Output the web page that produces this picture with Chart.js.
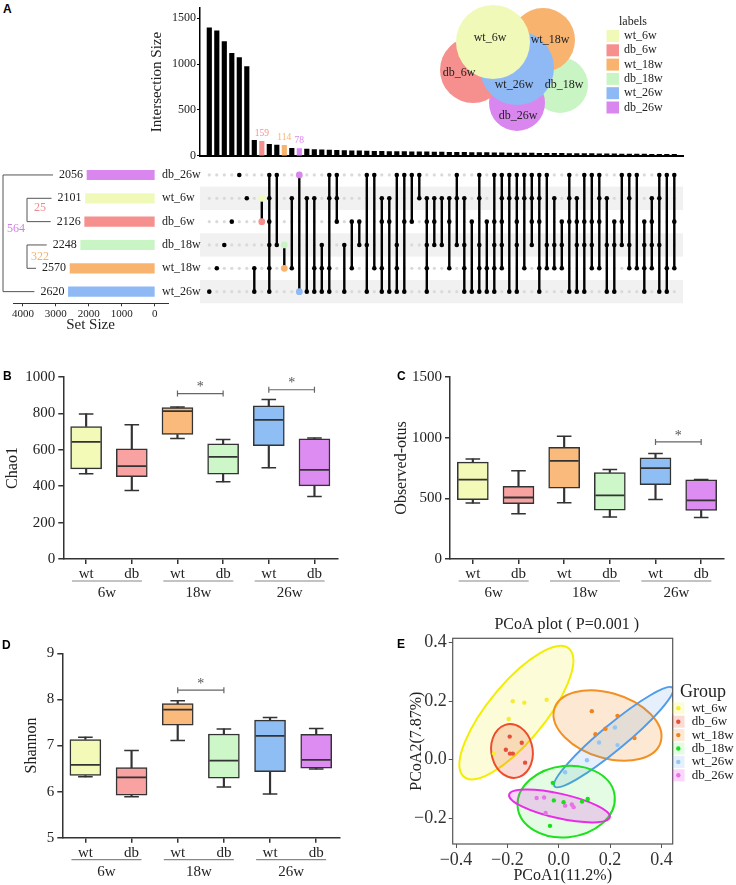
<!DOCTYPE html>
<html lang="en">
<head>
<meta charset="UTF-8">
<title>UpSet, alpha diversity and PCoA</title>
<script src="https://cdn.jsdelivr.net/npm/chart.js"></script>
<style>
  body { margin: 0; background: #fff; }
  #page { position: relative; width: 736px; height: 885px; overflow: hidden; }
  canvas { position: absolute; }
  .tag { position: absolute; font: bold 12px 'Liberation Sans', Arial, sans-serif; color: #000; }
</style>
</head>
<body>
<div id="page">
  <canvas id="bars" width="545" height="164" style="left:145px;top:0px"></canvas>
  <canvas id="venn" width="296" height="135" style="left:440px;top:0px"></canvas>
  <canvas id="matrix" width="545" height="150" style="left:145px;top:160px"></canvas>
  <canvas id="sets" width="213" height="175" style="left:0px;top:160px"></canvas>
  <canvas id="chao" width="345" height="255" style="left:0px;top:350px"></canvas>
  <canvas id="otus" width="345" height="255" style="left:385px;top:350px"></canvas>
  <canvas id="shannon" width="345" height="255" style="left:0px;top:630px"></canvas>
  <canvas id="pcoa" width="336" height="275" style="left:400px;top:610px"></canvas>
  <div class="tag" style="left:3px;top:2px">A</div>
  <div class="tag" style="left:3px;top:369px">B</div>
  <div class="tag" style="left:397px;top:369px">C</div>
  <div class="tag" style="left:2px;top:638px">D</div>
  <div class="tag" style="left:397px;top:637px">E</div>
</div>

<script>
const FONT = "'Liberation Serif', 'Times New Roman', serif";
Chart.defaults.font.family = FONT;
Chart.defaults.color = '#222';
Chart.defaults.plugins.legend.display = false;
Chart.defaults.plugins.tooltip.enabled = false;

// ---------- panel A : upset + venn ----------
const setNames = ['db_26w', 'wt_6w', 'db_6w', 'db_18w', 'wt_18w', 'wt_26w'];
const setSizes = [2056, 2101, 2126, 2248, 2570, 2620];
const setColors = ['#D987EF', '#F1F9B8', '#F5908E', '#C9F5C4', '#F8B36F', '#8EB9F5'];
const setSizeTicks = [4000, 3000, 2000, 1000, 0];

const interSizes = [1397, 1364, 1246, 1118, 1071, 973, 170, 159, 125, 118,
  114, 82, 78, 72, 68, 64, 62, 60, 57, 55,
  53, 51, 50, 48, 47, 46, 45, 44, 43, 42,
  41, 40, 39, 38, 37, 36, 35, 34, 33, 32,
  31, 30, 30, 29, 28, 27, 27, 26, 25, 24,
  24, 23, 22, 21, 21, 20, 19, 19, 18, 17,
  17, 16, 15];
const interTicks = [0, 500, 1000, 1500];
// membership per intersection, rows in setNames order
const interSets = ['000001', '000010', '000100', '001000', '100000', '010000', '000011', '011000', '111111', '100100',
  '000110', '010010', '100001', '010001', '010011', '000111', '110011', '111000', '000101', '001010',
  '001100', '100101', '100010', '011011', '011001', '100111', '101001', '101000', '110000', '011111',
  '011100', '010100', '011010', '110100', '010111', '001001', '110111', '001011', '101111', '111110',
  '110001', '111101', '110010', '111100', '111011', '100110', '010110', '001110', '111001', '011101',
  '101101', '101110', '111010', '010101', '001101', '101100', '110110', '100010', '001111', '011110',
  '110101', '100011', '101010'];
const markedCols = [7, 10, 12];
const markedSet = ['db_6w', 'wt_18w', 'db_26w'];

const clusterPairs = [['wt_6w', 'db_6w'], ['db_18w', 'wt_18w']];
const clusterLabels = ['25', '322', '564'];
const clusterColors = ['#F08A8A', '#F0B26A', '#D27EE8'];

const vennNames = ['wt_6w', 'db_6w', 'wt_18w', 'db_18w', 'wt_26w', 'db_26w'];
const vennX = [53, 33, 103, 120, 77, 77];
const vennY = [42, 70, 40, 85, 68, 103];
const vennR = [37, 33, 32, 28, 37, 28];
const vennLabelX = [50, 19, 110, 124, 74, 78];
const vennLabelY = [38, 73, 40, 85, 85, 116];
const vennOrder = [0, 4, 1, 2, 5, 3]; // first one ends up on top

const colorOf = name => setColors[setNames.indexOf(name)];

// ---------- panels B-D : box plots ----------
const ageGroups = ['6w', '18w', '26w'];
const boxLabels = ['wt', 'db', 'wt', 'db', 'wt', 'db'];
const boxFill = ['#F3F9B6', '#F8A2A2', '#F9BA7C', '#CDF7C8', '#8FBEF5', '#DD8DF1'];
// [min, q1, median, q3, max]
const chao1 = [[468, 495, 644, 728, 797], [377, 453, 510, 605, 737], [662, 684, 813, 832, 835],
  [424, 466, 561, 633, 656], [501, 623, 764, 841, 876], [344, 402, 490, 660, 665]];
const observed = [[461, 488, 655, 798, 825], [373, 455, 507, 598, 727], [463, 584, 809, 921, 1012],
  [346, 403, 524, 713, 738], [491, 612, 749, 834, 869], [343, 400, 483, 653, 655]];
const shannon = [[6.32, 6.35, 6.58, 7.13, 7.18], [5.89, 5.92, 6.31, 6.52, 6.89], [7.11, 7.44, 7.78, 7.91, 7.97],
  [6.10, 6.29, 6.67, 7.25, 7.36], [5.95, 6.43, 7.21, 7.55, 7.61], [6.49, 6.51, 6.69, 7.24, 7.37]];
const chaoSig = [[2, 3, 909], [4, 5, 930]];
const otusSig = [[4, 5, 965]];
const shanSig = [[2, 3, 8.2]];

// ---------- panel E : PCoA ----------
const pcoaGroups = ['wt_6w', 'db_6w', 'wt_18w', 'db_18w', 'wt_26w', 'db_26w'];
const pcoaX = [[-0.179, -0.134, -0.047, -0.195, -0.252],
  [-0.191, -0.144, -0.206, -0.190, -0.179, -0.131],
  [0.129, 0.229, 0.182, 0.143, 0.295],
  [-0.023, -0.019, 0.019, 0.091, 0.113, -0.034],
  [0.219, 0.157, 0.229, 0.110, 0.025],
  [-0.086, -0.057, 0.025, 0.051, 0.058, -0.051]];
const pcoaY = [[0.200, 0.195, 0.205, 0.139, 0.021],
  [0.079, 0.058, 0.034, 0.021, 0.021, -0.010],
  [0.166, 0.150, 0.106, 0.087, 0.074],
  [-0.079, -0.139, -0.145, -0.143, -0.134, -0.226],
  [0.110, 0.059, 0.050, -0.002, -0.043],
  [-0.131, -0.129, -0.157, -0.153, -0.162, -0.182]];
const ellCx = [-0.165, -0.182, 0.190, 0.029, 0.214, 0.003];
const ellCy = [0.161, 0.030, 0.117, -0.143, 0.077, -0.158];
const ellA = [0.30, 0.093, 0.215, 0.19, 0.285, 0.20];
const ellB = [0.105, 0.08, 0.112, 0.122, 0.045, 0.042];
const ellAngle = [46, 108, -14, 5, 36, -11];
const pcoaLine = ['#F2EE00', '#EC4E2C', '#F39024', '#1EE01E', '#4F9CEB', '#EA2BEA'];
const pcoaFill = ['rgba(242,238,0,0.15)', 'rgba(236,78,44,0.2)', 'rgba(243,144,36,0.2)',
  'rgba(30,224,30,0.12)', 'rgba(79,156,235,0.15)', 'rgba(234,43,234,0.2)'];
const pcoaDot = ['#F4EE2E', '#E5503C', '#EE8324', '#18E018', '#93C6F4', '#E873E8'];
const ellDrawOrder = [0, 1, 2, 4, 3, 5];

const base = { responsive: false, animation: false, events: [] };
const plain = v => String(v);

// ----- venn -----
const vennText = {
  id: 'vennText',
  afterDatasetsDraw(chart) {
    const { ctx, scales: { x, y } } = chart;
    ctx.save();
    ctx.font = `12px ${FONT}`;
    ctx.fillStyle = '#222';
    ctx.textAlign = 'center';
    ctx.textBaseline = 'middle';
    vennNames.forEach((n, i) => ctx.fillText(n, x.getPixelForValue(vennLabelX[i]), y.getPixelForValue(vennLabelY[i])));
    // legend
    ctx.textAlign = 'left';
    ctx.fillText('labels', 179, 22);
    vennNames.forEach((n, i) => {
      const yy = 36 + i * 14.3;
      ctx.fillStyle = colorOf(n);
      ctx.fillRect(166.5, yy - 6, 12.5, 12);
      ctx.fillStyle = '#222';
      ctx.fillText(n, 184, yy);
    });
    ctx.restore();
  }
};

new Chart(document.getElementById('venn'), {
  type: 'bubble',
  data: {
    datasets: vennOrder.map(i => ({
      data: [{ x: vennX[i], y: vennY[i], r: vennR[i] }],
      backgroundColor: colorOf(vennNames[i]),
      borderWidth: 0,
      clip: false
    }))
  },
  options: {
    ...base,
    layout: { padding: 0, autoPadding: false },
    scales: {
      x: { type: 'linear', display: false, min: 0, max: 296 },
      y: { type: 'linear', display: false, min: 0, max: 135, reverse: true }
    }
  },
  plugins: [vennText]
});

// ----- intersection bars -----
const barNumbers = {
  id: 'barNumbers',
  afterDatasetsDraw(chart) {
    const { ctx } = chart;
    const meta = chart.getDatasetMeta(0);
    ctx.save();
    ctx.font = `9.5px ${FONT}`;
    ctx.textAlign = 'center';
    ctx.textBaseline = 'bottom';
    markedCols.forEach((c, k) => {
      const bar = meta.data[c];
      ctx.fillStyle = colorOf(markedSet[k]);
      ctx.fillText(String(interSizes[c]), bar.x, bar.y - 3);
    });
    ctx.restore();
  }
};

const colX = { type: 'linear', min: -1.24, max: 63.16, offset: false };

new Chart(document.getElementById('bars'), {
  type: 'bar',
  data: {
    datasets: [{
      data: interSizes.map((v, i) => ({ x: i, y: v })),
      backgroundColor: interSizes.map((v, i) => markedCols.includes(i) ? colorOf(markedSet[markedCols.indexOf(i)]) : '#000'),
      barThickness: 4.5
    }]
  },
  options: {
    ...base,
    layout: { padding: { top: 2, right: 7, left: 0, bottom: 0 }, autoPadding: false },
    scales: {
      x: { ...colX, ticks: { display: false }, grid: { display: false }, border: { color: '#000', width: 2 },
           afterFit: s => { s.height = 3; } },
      y: {
        min: 0, max: 1610,
        afterBuildTicks: s => { s.ticks = interTicks.map(v => ({ value: v })); },
        ticks: { callback: plain, font: { size: 12 }, color: '#222', padding: 1 },
        grid: { drawOnChartArea: false, tickLength: 3, color: '#000' },
        border: { color: '#000', width: 1.5 },
        title: { display: true, text: 'Intersection Size', font: { size: 15 }, color: '#222', padding: { top: 3, bottom: 0 } },
        afterFit: s => { s.width = 55; }
      }
    }
  },
  plugins: [barNumbers]
});

// ----- matrix -----
const greyDots = [], memberDots = [], links = [], markDots = [], markColors = [];
interSets.forEach((code, i) => {
  const rows = [];
  [...code].forEach((c, r) => (c === '1' ? rows.push(r) : greyDots.push({ x: i, y: r })));
  rows.forEach(r => {
    if (markedCols.includes(i)) { markDots.push({ x: i, y: r }); markColors.push(setColors[r]); }
    else memberDots.push({ x: i, y: r });
  });
  links.push({ x: i, y: rows[0] }, { x: i, y: rows[rows.length - 1] }, { x: i, y: null });
});

const stripes = {
  id: 'stripes',
  beforeDatasetsDraw(chart) {
    const { ctx, chartArea: a, scales: { y } } = chart;
    ctx.save();
    ctx.fillStyle = '#F1F1F1';
    [1, 3, 5].forEach(r => {
      const top = y.getPixelForValue(r - 0.5);
      ctx.fillRect(a.left, top, a.right - a.left, y.getPixelForValue(r + 0.5) - top);
    });
    ctx.restore();
  }
};

new Chart(document.getElementById('matrix'), {
  type: 'scatter',
  data: {
    datasets: [
      { data: greyDots, backgroundColor: '#DADADA', pointRadius: 1.6, borderWidth: 0, order: 3 },
      { type: 'line', data: links, borderColor: '#000', borderWidth: 2.4, pointRadius: 0, spanGaps: false, order: 2 },
      { data: memberDots, backgroundColor: '#000', pointRadius: 2.3, borderWidth: 0, order: 1 },
      { data: markDots, backgroundColor: markColors, pointRadius: 3.4, borderWidth: 0, order: 0 }
    ]
  },
  options: {
    ...base,
    layout: { padding: { left: 55, right: 7, top: 3.3, bottom: 6.7 }, autoPadding: false },
    scales: {
      x: { ...colX, display: false },
      y: { type: 'linear', min: -0.5, max: 5.5, reverse: true, display: false }
    }
  },
  plugins: [stripes]
});

// ----- set sizes + dendrogram -----
const dendro = {
  id: 'dendro',
  afterDraw(chart) {
    const { ctx, scales: { x, y } } = chart;
    const rowY = name => y.getPixelForValue(setNames.indexOf(name));
    const lineEnd = {};
    ctx.save();
    ctx.font = `12px ${FONT}`;
    ctx.textBaseline = 'middle';
    ctx.fillStyle = '#222';
    ctx.textAlign = 'left';
    setNames.forEach(n => ctx.fillText(n, 162, rowY(n)));
    ctx.textAlign = 'right';
    setNames.forEach((n, i) => {
      const right = x.getPixelForValue(setSizes[i]) - 4;
      ctx.fillText(String(setSizes[i]), right, rowY(n));
      lineEnd[n] = right - ctx.measureText(String(setSizes[i])).width - 6;
    });
    ctx.strokeStyle = '#555';
    ctx.lineWidth = 1;
    const seg = (x0, y0, x1, y1) => { ctx.beginPath(); ctx.moveTo(x0, y0); ctx.lineTo(x1, y1); ctx.stroke(); };
    clusterPairs.forEach(([a, b]) => {
      seg(27, rowY(a), 27, rowY(b));
      seg(27, rowY(a), lineEnd[a], rowY(a));
      seg(27, rowY(b), lineEnd[b], rowY(b));
    });
    const first = setNames[0], last = setNames[setNames.length - 1];
    seg(3, rowY(first), 3, rowY(last));
    seg(3, rowY(first), lineEnd[first], rowY(first));
    seg(3, rowY(last), lineEnd[last], rowY(last));
    ctx.textAlign = 'center';
    const pairMid = p => (rowY(p[0]) + rowY(p[1])) / 2;
    ctx.fillStyle = clusterColors[0];
    ctx.fillText(clusterLabels[0], 40, pairMid(clusterPairs[0]) - 2);
    ctx.fillStyle = clusterColors[1];
    ctx.fillText(clusterLabels[1], 40, pairMid(clusterPairs[1]));
    ctx.fillStyle = clusterColors[2];
    ctx.fillText(clusterLabels[2], 16, (rowY(first) + rowY(last)) / 2 - 4);
    ctx.restore();
  }
};

new Chart(document.getElementById('sets'), {
  type: 'bar',
  data: { labels: setNames, datasets: [{ data: setSizes, backgroundColor: setColors, barThickness: 9.5 }] },
  options: {
    ...base,
    indexAxis: 'y',
    layout: { padding: { left: 13, top: 3.3, right: 0, bottom: 0 }, autoPadding: false },
    scales: {
      x: {
        min: -400, max: 4300, reverse: true,
        afterBuildTicks: s => { s.ticks = setSizeTicks.map(v => ({ value: v })); },
        ticks: { callback: plain, font: { size: 11 }, color: '#222', padding: 1, maxRotation: 0 },
        grid: { drawOnChartArea: false, tickLength: 3, color: '#333' },
        border: { color: '#333', width: 1 },
        title: { display: true, text: 'Set Size', font: { size: 15 }, color: '#222', padding: { top: 0, bottom: 1 } },
        afterFit: s => { s.height = 31.7; }
      },
      y: {
        position: 'right',
        grid: { display: false }, border: { display: false },
        ticks: { display: false },
        afterFit: s => { s.width = 45; }
      }
    }
  },
  plugins: [dendro]
});

// ----- box plots -----
const boxExtras = {
  id: 'boxExtras',
  afterDraw(chart, args, opts) {
    const { ctx, chartArea: a, scales: { x, y } } = chart;
    ctx.save();
    ctx.lineWidth = 1.2;
    ctx.textAlign = 'center';
    ctx.textBaseline = 'middle';
    ctx.font = `15px ${FONT}`;
    ageGroups.forEach((g, k) => {
      const mid = (x.getPixelForValue(2 * k) + x.getPixelForValue(2 * k + 1)) / 2 - 2;
      ctx.strokeStyle = '#888';
      ctx.beginPath(); ctx.moveTo(mid - 35, a.bottom + 22); ctx.lineTo(mid + 35, a.bottom + 22); ctx.stroke();
      ctx.fillStyle = '#222';
      ctx.fillText(g, mid, a.bottom + 34);
    });
    ctx.strokeStyle = '#666';
    ctx.fillStyle = '#555';
    ctx.font = `14px ${FONT}`;
    (opts.sig || []).forEach(([i0, i1, v]) => {
      const x0 = x.getPixelForValue(i0), x1 = x.getPixelForValue(i1), yy = y.getPixelForValue(v);
      ctx.beginPath();
      ctx.moveTo(x0, yy); ctx.lineTo(x1, yy);
      ctx.moveTo(x0, yy - 3); ctx.lineTo(x0, yy + 3);
      ctx.moveTo(x1, yy - 3); ctx.lineTo(x1, yy + 3);
      ctx.stroke();
      ctx.fillText('*', (x0 + x1) / 2, yy - 6);
    });
    ctx.restore();
  }
};

function boxChart(id, stats, yCfg, title, sig, pad) {
  const whisk = (lo, hi) => ({ type: 'bar', data: stats.map(s => [s[lo], s[hi]]), backgroundColor: '#333',
    barThickness: 1.5, grouped: false, order: 3 });
  const mark = (k, r, w) => ({ type: 'line', data: stats.map(s => s[k]), showLine: false, pointStyle: 'line',
    pointRadius: r, pointBorderWidth: w, pointBorderColor: '#333', order: 0 });
  return new Chart(document.getElementById(id), {
    type: 'bar',
    data: {
      labels: boxLabels,
      datasets: [
        whisk(0, 1), whisk(3, 4),
        { type: 'bar', data: stats.map(s => [s[1], s[3]]), backgroundColor: boxFill, borderColor: '#333',
          borderWidth: 1.5, borderSkipped: false, barThickness: 31, grouped: false, order: 2 },
        mark(2, 14.5, 1.8), mark(0, 7.3, 1.5), mark(4, 7.3, 1.5)
      ]
    },
    options: {
      ...base,
      layout: { padding: { top: pad.top, right: pad.right, left: 0, bottom: pad.bottom }, autoPadding: false },
      plugins: { boxExtras: { sig } },
      scales: {
        x: {
          offset: true,
          grid: { offset: false, drawOnChartArea: false, tickLength: 5, color: '#333', lineWidth: 1.5 },
          border: { color: '#333', width: 1.5 },
          ticks: { font: { size: 15 }, color: '#222', padding: 1 },
          afterFit: s => { s.height = 22; }
        },
        y: {
          min: yCfg.min, max: yCfg.max,
          ticks: { stepSize: yCfg.step, callback: plain, font: { size: 15 }, color: '#222', padding: 3 },
          grid: { drawOnChartArea: false, tickLength: 5, color: '#333', lineWidth: 1.5 },
          border: { color: '#333', width: 1.5 },
          title: { display: true, text: title, font: { size: 16 }, color: '#222', padding: { top: pad.title, bottom: 0 } },
          afterFit: s => { s.width = pad.left; }
        }
      }
    },
    plugins: [boxExtras]
  });
}

boxChart('chao', chao1, { min: 0, max: 1000, step: 200 }, 'Chao1', chaoSig,
  { top: 27, right: 7.7, bottom: 24, left: 63.3, title: 3.5 });
boxChart('otus', observed, { min: 0, max: 1500, step: 500 }, 'Observed-otus', otusSig,
  { top: 27, right: 6, bottom: 24, left: 65, title: 7 });
boxChart('shannon', shannon, { min: 5, max: 9, step: 1 }, 'Shannon', shanSig,
  { top: 23.3, right: 5.7, bottom: 25.3, left: 62.3, title: 22 });

// ----- PCoA -----
const minus = v => (Math.abs(v) < 1e-9 ? '0.0' : v.toFixed(1).replace('-', '\u2212'));

const pcoaExtras = {
  id: 'pcoaExtras',
  beforeDatasetsDraw(chart) {
    const { ctx, chartArea: a, scales: { x, y } } = chart;
    const sx = x.getPixelForValue(1) - x.getPixelForValue(0);
    const sy = y.getPixelForValue(1) - y.getPixelForValue(0);
    ctx.save();
    ctx.beginPath();
    ctx.rect(a.left, a.top, a.right - a.left, a.bottom - a.top);
    ctx.clip();
    ellDrawOrder.forEach(i => {
      ctx.save();
      ctx.translate(x.getPixelForValue(ellCx[i]), y.getPixelForValue(ellCy[i]));
      ctx.scale(sx, sy);
      ctx.beginPath();
      ctx.ellipse(0, 0, ellA[i], ellB[i], ellAngle[i] * Math.PI / 180, 0, 2 * Math.PI);
      ctx.restore();
      ctx.fillStyle = pcoaFill[i];
      ctx.fill();
      ctx.strokeStyle = pcoaLine[i];
      ctx.lineWidth = 2;
      ctx.stroke();
    });
    ctx.restore();
  },
  afterDraw(chart) {
    const { ctx, chartArea: a } = chart;
    ctx.save();
    ctx.strokeStyle = '#555';
    ctx.lineWidth = 1.2;
    ctx.strokeRect(a.left, a.top, a.right - a.left, a.bottom - a.top);
    ctx.fillStyle = '#222';
    ctx.textBaseline = 'middle';
    ctx.textAlign = 'center';
    ctx.font = `16px ${FONT}`;
    ctx.fillText('PCoA plot ( P=0.001 )', (a.left + a.right) / 2 + 4, 15);
    ctx.textAlign = 'left';
    ctx.font = `18px ${FONT}`;
    ctx.fillText('Group', 280, 82);
    ctx.font = `13px ${FONT}`;
    pcoaGroups.forEach((g, i) => {
      const yy = 98.3 + i * 13.4;
      ctx.fillStyle = pcoaFill[i];
      ctx.fillRect(272, yy - 6, 12.5, 12);
      ctx.fillStyle = pcoaDot[i];
      ctx.beginPath(); ctx.arc(278.3, yy, 2.2, 0, 2 * Math.PI); ctx.fill();
      ctx.fillStyle = '#222';
      ctx.fillText(g, 291.7, yy);
    });
    ctx.restore();
  }
};

new Chart(document.getElementById('pcoa'), {
  type: 'scatter',
  data: {
    datasets: pcoaGroups.map((g, i) => ({
      label: g,
      data: pcoaX[i].map((v, j) => ({ x: v, y: pcoaY[i][j] })),
      backgroundColor: pcoaDot[i], pointRadius: 2.2, borderWidth: 0
    }))
  },
  options: {
    ...base,
    layout: { padding: { top: 28.3, right: 63.3, left: 0, bottom: 0 }, autoPadding: false },
    scales: {
      x: {
        min: -0.413, max: 0.444,
        ticks: { stepSize: 0.2, includeBounds: false, callback: minus, font: { size: 18 }, color: '#333', padding: 1, maxRotation: 0 },
        grid: { drawOnChartArea: false, tickLength: 4, color: '#555' },
        border: { display: false },
        title: { display: true, text: 'PCoA1(11.2%)', font: { size: 16 }, color: '#222', padding: { top: 0, bottom: 0 } },
        afterFit: s => { s.height = 41; }
      },
      y: {
        min: -0.288, max: 0.415,
        ticks: { stepSize: 0.2, includeBounds: false, callback: minus, font: { size: 18 }, color: '#333', padding: 2 },
        grid: { drawOnChartArea: false, tickLength: 4, color: '#555' },
        border: { display: false },
        title: { display: true, text: 'PCoA2(7.87%)', font: { size: 16 }, color: '#222', padding: { top: 7, bottom: 0 } },
        afterFit: s => { s.width = 52.7; }
      }
    }
  },
  plugins: [pcoaExtras]
});
</script>
</body>
</html>
